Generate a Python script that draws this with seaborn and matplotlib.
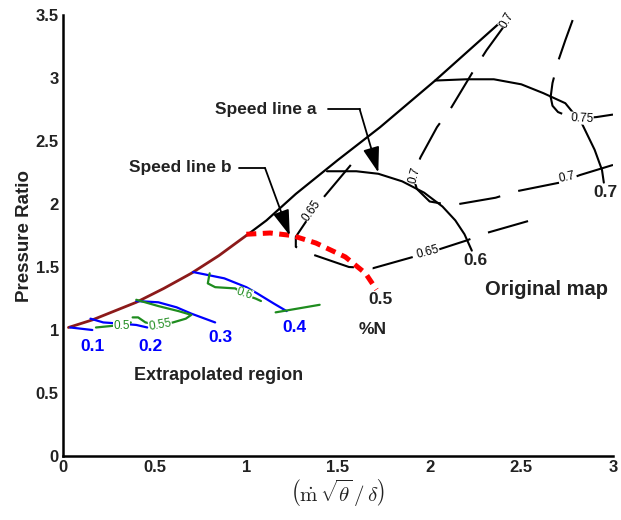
import numpy as np
import pandas as pd
import matplotlib
matplotlib.use("Agg")
import matplotlib.pyplot as plt
import seaborn as sns

# ---- surge line: extrapolated part and original-map part ----
surge_ext_x = [0.03, 0.16, 0.28, 0.40, 0.55, 0.70, 0.85, 1.00]
surge_ext_y = [1.02, 1.08, 1.15, 1.22, 1.33, 1.45, 1.59, 1.75]
surge_map_x = [1.00, 1.11, 1.27, 1.50, 1.73, 2.03, 2.43]
surge_map_y = [1.75, 1.87, 2.08, 2.35, 2.61, 2.98, 3.50]

# ---- original-map speed lines ----
speed_06_x = [1.44, 1.60, 1.72, 1.85, 1.97, 2.07, 2.14, 2.19, 2.23]
speed_06_y = [2.26, 2.26, 2.24, 2.18, 2.09, 1.98, 1.87, 1.76, 1.63]
speed_07_x = [2.03, 2.20, 2.35, 2.50, 2.62, 2.74, 2.83, 2.90, 2.94, 2.95]
speed_07_y = [2.98, 2.99, 2.99, 2.95, 2.88, 2.80, 2.64, 2.43, 2.27, 2.17]
# speed line b (0.5), the first extrapolated line
speed_05_x = [1.00, 1.13, 1.25, 1.38, 1.54, 1.65, 1.71]
speed_05_y = [1.76, 1.77, 1.75, 1.69, 1.58, 1.45, 1.32]

# ---- original-map efficiency contours ----
eff_065_x = [1.57, 1.42, 1.33, 1.27, 1.27, 1.34, 1.56, 1.69, 1.91, 2.03, 2.20, 2.31, 2.55]
eff_065_y = [2.31, 2.05, 1.87, 1.74, 1.66, 1.61, 1.50, 1.49, 1.58, 1.63, 1.71, 1.77, 1.87]
eff_070_x = [2.42, 2.31, 2.24, 2.12, 2.04, 1.95, 1.91, 1.93, 2.00, 2.12, 2.36, 2.47, 2.71, 2.82, 3.00]
eff_070_y = [3.44, 3.22, 3.06, 2.77, 2.61, 2.37, 2.22, 2.12, 2.02, 1.99, 2.05, 2.10, 2.17, 2.23, 2.31]
eff_075_x = [2.78, 2.74, 2.70, 2.67, 2.66, 2.67, 2.70, 2.75, 2.82, 2.91, 3.00]
eff_075_y = [3.46, 3.30, 3.13, 2.96, 2.85, 2.78, 2.73, 2.70, 2.68, 2.69, 2.71]

# ---- extrapolated speed lines (blue) ----
speed_01_x = [0.04, 0.10, 0.16]
speed_01_y = [1.02, 1.01, 1.00]
speed_02_x = [0.15, 0.22, 0.32, 0.40, 0.46]
speed_02_y = [1.09, 1.06, 1.05, 1.04, 1.02]
speed_03_x = [0.40, 0.52, 0.62, 0.70, 0.83]
speed_03_y = [1.23, 1.22, 1.18, 1.13, 1.06]
speed_04_x = [0.71, 0.88, 1.00, 1.06, 1.15, 1.22]
speed_04_y = [1.46, 1.41, 1.34, 1.29, 1.21, 1.15]

# ---- extrapolated efficiency contours (green) ----
eff_050_x = [0.18, 0.25, 0.32, 0.37]
eff_050_y = [1.02, 1.03, 1.04, 1.06]
eff_055_x = [0.40, 0.52, 0.63, 0.70, 0.67, 0.60, 0.53, 0.45, 0.41, 0.38]
eff_055_y = [1.24, 1.19, 1.15, 1.12, 1.09, 1.06, 1.04, 1.06, 1.10, 1.10]
eff_060_x = [0.80, 0.79, 0.83, 0.94, 0.99, 1.05, 1.08]
eff_060_y = [1.45, 1.37, 1.34, 1.33, 1.28, 1.25, 1.23]
eff_060b_x = [1.16, 1.28, 1.40]
eff_060b_y = [1.14, 1.17, 1.20]

# speed labels
speed_lbl = ["0.1", "0.2", "0.3", "0.4", "0.5", "0.6", "0.7"]
speed_lbl_x = [0.16, 0.48, 0.86, 1.26, 1.73, 2.25, 2.96]
speed_lbl_y = [0.87, 0.87, 0.94, 1.02, 1.24, 1.55, 2.09]
speed_lbl_col = ["blue", "blue", "blue", "blue", "#222222", "#222222", "#222222"]

# efficiency labels: text, x, y, rotation, colour
eff_lbl = ["0.65", "0.65", "0.7", "0.7", "0.7", "0.75", "0.5", "0.55", "0.6"]
eff_lbl_x = [1.355, 1.99, 1.92, 2.42, 2.75, 2.83, 0.32, 0.53, 0.99]
eff_lbl_y = [1.95, 1.62, 2.23, 3.46, 2.21, 2.68, 1.035, 1.04, 1.285]
eff_lbl_rot = [55, 15, 75, 60, 12, -3, 0, 10, -18]
eff_lbl_col = ["black"] * 6 + ["#1e8c1e"] * 3

x_ticks = [0, 0.5, 1, 1.5, 2, 2.5, 3]
y_ticks = [0, 0.5, 1, 1.5, 2, 2.5, 3, 3.5]

sns.set_theme(style="white")
plt.rcParams["font.family"] = ["Liberation Sans", "DejaVu Sans"]
plt.rcParams["mathtext.fontset"] = "cm"

fig = plt.figure(figsize=(6.21, 5.2), dpi=100)
ax = fig.add_axes([0.1014, 0.1231, 0.8857, 0.848])

GREEN = "#1e8c1e"
BROWN = "#8c1a1a"
INK = "#222222"


def curve(xs, ys, **kw):
    df = pd.DataFrame({"x": xs, "y": ys})
    sns.lineplot(data=df, x="x", y="y", sort=False, estimator=None, ax=ax, **kw)


long_dash = (0, (20, 9))

# original map efficiency contours
for xs, ys in [(eff_065_x, eff_065_y), (eff_070_x, eff_070_y), (eff_075_x, eff_075_y)]:
    curve(xs, ys, color="black", lw=1.5, linestyle=long_dash)

# surge line
curve(surge_map_x, surge_map_y, color="black", lw=1.6)
curve(surge_ext_x, surge_ext_y, color=BROWN, lw=2.0)

# speed lines
curve(speed_06_x, speed_06_y, color="black", lw=1.5)
curve(speed_07_x, speed_07_y, color="black", lw=1.5)
curve(speed_05_x, speed_05_y, color="red", lw=3.6, linestyle=(0, (2.0, 1.3)))

for xs, ys in [(speed_01_x, speed_01_y), (speed_02_x, speed_02_y),
               (speed_03_x, speed_03_y), (speed_04_x, speed_04_y)]:
    curve(xs, ys, color="blue", lw=1.6)

for xs, ys in [(eff_050_x, eff_050_y), (eff_055_x, eff_055_y),
               (eff_060_x, eff_060_y), (eff_060b_x, eff_060b_y)]:
    curve(xs, ys, color=GREEN, lw=1.6)

# contour labels
for t, x, y, r, c in zip(eff_lbl, eff_lbl_x, eff_lbl_y, eff_lbl_rot, eff_lbl_col):
    ax.text(x, y, t, rotation=r, color=c, fontsize=8.5, ha="center", va="center",
            rotation_mode="anchor",
            bbox=dict(facecolor="white", edgecolor="none", pad=0.2), zorder=5)

# speed labels
for t, x, y, c in zip(speed_lbl, speed_lbl_x, speed_lbl_y, speed_lbl_col):
    ax.text(x, y, t, color=c, fontsize=12.5, fontweight="bold", ha="center",
            va="center", clip_on=False, zorder=6)

# call-outs for the two speed lines
ax.plot([1.446, 1.618], [2.754, 2.754], color="black", lw=1.3)
ax.annotate("", xy=(1.72, 2.25), xytext=(1.618, 2.754),
            arrowprops=dict(arrowstyle="-|>,head_length=1.3,head_width=0.42",
                            color="black", lw=1.3, shrinkA=0, shrinkB=0))
ax.text(1.385, 2.754, "Speed line a", fontsize=12.5, fontweight="bold",
        ha="right", va="center", color=INK)

ax.plot([0.962, 1.102], [2.286, 2.286], color="black", lw=1.3)
ax.annotate("", xy=(1.237, 1.75), xytext=(1.102, 2.286),
            arrowprops=dict(arrowstyle="-|>,head_length=1.3,head_width=0.42",
                            color="black", lw=1.3, shrinkA=0, shrinkB=0))
ax.text(0.92, 2.286, "Speed line b", fontsize=12.5, fontweight="bold",
        ha="right", va="center", color=INK)

ax.text(2.64, 1.32, "Original map", fontsize=14.5, fontweight="bold",
        ha="center", va="center", color=INK)
ax.text(0.85, 0.64, "Extrapolated region", fontsize=13, fontweight="bold",
        ha="center", va="center", color=INK)
ax.text(1.69, 1.00, "%N", fontsize=12.5, fontweight="bold",
        ha="center", va="center", color=INK)

# axes
ax.set_xlim(0, 3)
ax.set_ylim(0, 3.5)
ax.set_xticks(x_ticks)
ax.set_yticks(y_ticks)
ax.set_xticklabels([f"{v:g}" for v in x_ticks], fontweight="bold", color=INK)
ax.set_yticklabels([f"{v:g}" for v in y_ticks], fontweight="bold", color=INK)
ax.tick_params(direction="in", length=4, width=1.5, labelsize=12, pad=3)
for side in ["top", "right"]:
    ax.spines[side].set_visible(False)
for side in ["left", "bottom"]:
    ax.spines[side].set_linewidth(1.8)
    ax.spines[side].set_color("black")

ax.set_ylabel("Pressure Ratio", fontsize=13.5, fontweight="bold", color=INK, labelpad=2)
ax.set_xlabel(r"$\left(\dot{\mathrm{m}}\,\sqrt{\theta}\,/\,\delta\right)$", fontsize=15,
              color=INK, labelpad=2)

fig.savefig("out.png", dpi=100)
